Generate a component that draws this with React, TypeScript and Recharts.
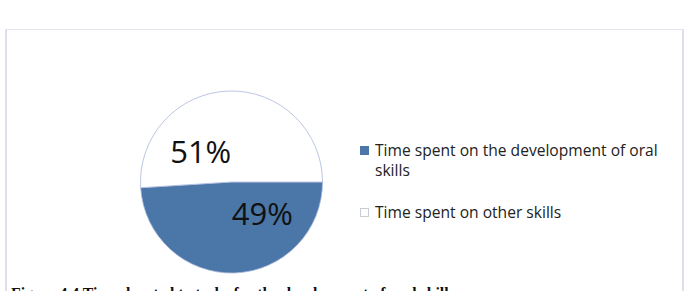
import React from 'react';
import { PieChart, Pie, Cell, Legend } from 'recharts';

const categories = ['Time spent on the development of oral skills', 'Time spent on other skills'];
const shares = [49, 51];
const caption = 'Figure 4.4 Time devoted to tasks for the development of oral skills';

const FILLS = ['#4a76a8', '#ffffff'];
const RAD = Math.PI / 180;

const data = categories.map((name, i) => ({ name, value: shares[i] }));

// Excel-style "best fit" labels sit a little off the slice middle
const renderLabel = (props: any) => {
  const { cx, cy, midAngle, outerRadius, value } = props;
  const a = (midAngle + 43) * RAD;
  const r = outerRadius * 0.48;
  const x = cx + r * Math.cos(a);
  const y = cy - r * Math.sin(a);
  return (
    <text x={x} y={y} textAnchor="middle" dominantBaseline="central"
      fontFamily="'Open Sans', sans-serif" fontSize={31} fill="#111">
      {`${value}%`}
    </text>
  );
};

const LegendContent = () => (
  <div style={{ fontFamily: "'Open Sans', sans-serif", fontSize: 15.6, color: '#222', lineHeight: '20px' }}>
    {data.map((d, i) => (
      <div key={d.name} style={{ display: 'flex', alignItems: 'flex-start', marginBottom: 22 }}>
        <div style={{
          width: 9, height: 9, marginTop: 6, marginRight: 6, flexShrink: 0,
          background: FILLS[i], border: i === 1 ? '1px solid #c8ccd4' : 'none', boxSizing: 'border-box'
        }} />
        <span>{d.name}</span>
      </div>
    ))}
  </div>
);

export default function App() {
  return (
    <div style={{ position: 'absolute', left: 0, top: 0, width: 685, height: 291, overflow: 'hidden', background: '#fff' }}>
      {/* chart frame */}
      <div style={{
        position: 'absolute', left: 5, top: 29, width: 675, height: 300,
        border: '1px solid #e2e5ee', borderLeft: '2px solid #dcdfec', borderRight: '2px solid #dcdfec'
      }} />
      <div style={{ position: 'absolute', left: 0, top: 0 }}>
        <PieChart width={685} height={291} margin={{ top: 0, right: 0, bottom: 0, left: 0 }}>
          <Pie
            data={data}
            dataKey="value"
            cx={231.5}
            cy={182}
            outerRadius={91}
            startAngle={0}
            endAngle={-360}
            stroke="#a9b8dc"
            strokeWidth={0.8}
            labelLine={false}
            label={renderLabel}
            isAnimationActive={false}
          >
            {data.map((d, i) => (
              <Cell key={d.name} fill={FILLS[i]} />
            ))}
          </Pie>
          <Legend
            layout="vertical"
            verticalAlign="top"
            align="right"
            content={<LegendContent />}
            wrapperStyle={{ left: 360, top: 140, width: 310 }}
          />
        </PieChart>
      </div>
      <div style={{
        position: 'absolute', left: 11, top: 285, whiteSpace: 'nowrap',
        fontFamily: "'Liberation Serif', serif", fontWeight: 'bold', fontSize: 15.8, color: '#111'
      }}>
        {caption}
      </div>
    </div>
  );
}
